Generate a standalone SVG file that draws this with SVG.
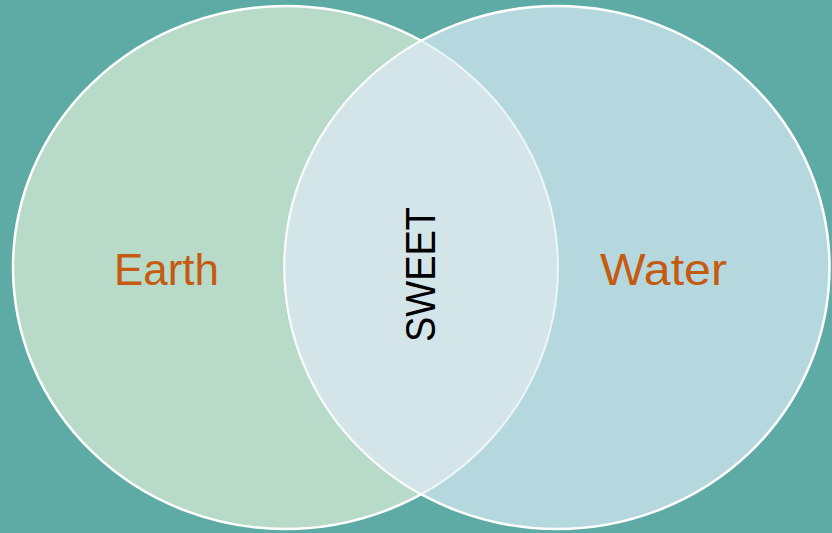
<svg xmlns="http://www.w3.org/2000/svg" width="832" height="533" viewBox="0 0 832 533">
<style>
.lbl{font-family:"Liberation Sans",Arial,sans-serif;font-size:45px;fill:#c55a11}
.mid{font-family:"Liberation Sans",Arial,sans-serif;font-size:42px;fill:#000}
</style>
<defs>
<clipPath id="cl"><ellipse cx="285.5" cy="267.5" rx="272.5" ry="261.5"/></clipPath>
<clipPath id="cr"><ellipse cx="557" cy="267.5" rx="272.5" ry="261.5"/></clipPath>
</defs>
<rect width="832" height="533" fill="#5eaba6"/>
<g id="earth">
<ellipse cx="285.5" cy="267.5" rx="272.5" ry="261.5" fill="#b8dac8" stroke="#ffffff" stroke-width="2.5"/>
</g>
<g id="water">
<ellipse cx="557" cy="267.5" rx="272.5" ry="261.5" fill="#b5d8de" stroke="#ffffff" stroke-width="2.5"/>
</g>
<g id="sweet">
<ellipse cx="557" cy="267.5" rx="272.5" ry="261.5" fill="#d3e5e9" clip-path="url(#cl)"/>
<ellipse cx="285.5" cy="267.5" rx="272.5" ry="261.5" fill="none" stroke="#ffffff" stroke-opacity="0.7" stroke-width="2" clip-path="url(#cr)"/>
<ellipse cx="557" cy="267.5" rx="272.5" ry="261.5" fill="none" stroke="#ffffff" stroke-opacity="0.7" stroke-width="2" clip-path="url(#cl)"/>
</g>
<text class="lbl" x="114" y="285" textLength="105" lengthAdjust="spacingAndGlyphs">Earth</text>
<text class="lbl" x="600" y="285" textLength="127" lengthAdjust="spacingAndGlyphs">Water</text>
<text class="mid" transform="translate(435,274.5) rotate(-90)" x="0" y="0" text-anchor="middle" textLength="135" lengthAdjust="spacingAndGlyphs">SWEET</text>
</svg>
